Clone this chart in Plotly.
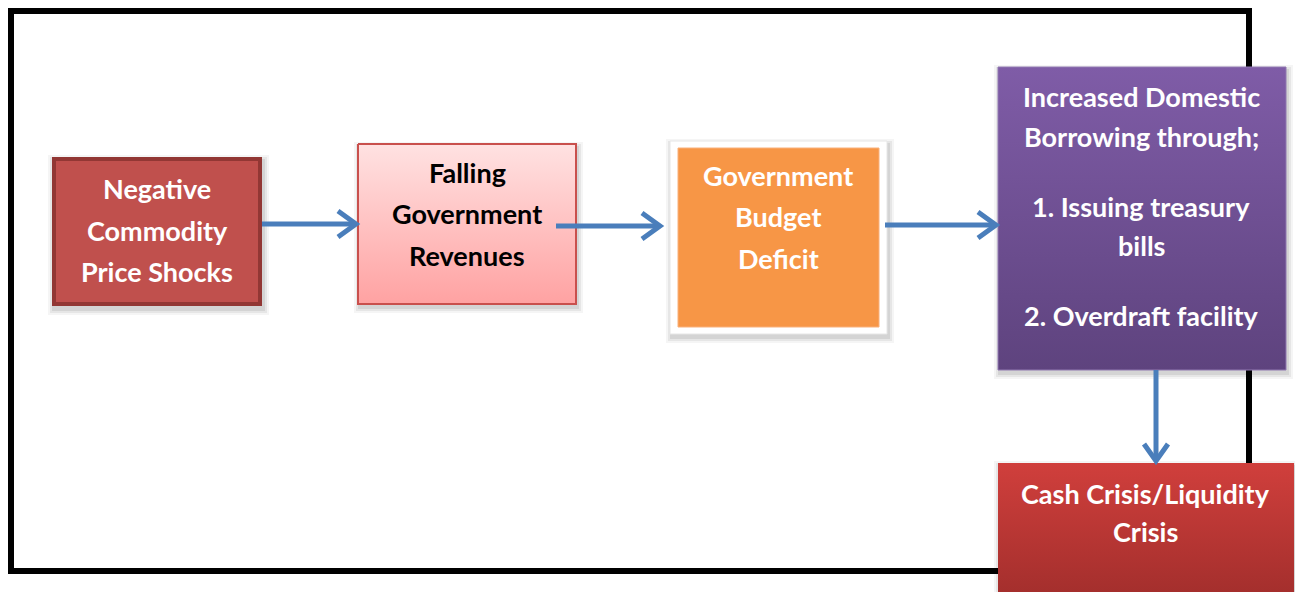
import plotly.graph_objects as go

# ---- diagram content ----
box_labels = [
    ["Negative", "Commodity", "Price Shocks"],
    ["Falling", "Government", "Revenues"],
    ["Government", "Budget", "Deficit"],
    ["Increased Domestic", "Borrowing through;", "1. Issuing treasury", "bills", "2. Overdraft facility"],
    ["Cash Crisis/Liquidity", "Crisis"],
]
text_colors = ["white", "black", "white", "white", "white"]

# ---- layout geometry (pixels) ----
W, H = 1295, 592
boxes = [  # x0, x1, y0, y1
    (52, 262, 157, 306),
    (358, 576, 144, 304),
    (678, 879, 148, 327),
    (998, 1286, 67, 370),
    (998, 1294, 463, 600),
]
line_ys = [
    [188, 230, 271],
    [172, 213, 255],
    [175, 216, 258],
    [96, 136, 206, 245, 315],
    [493, 531],
]
text_cx = [157, 467, 778, 1141, 1145]

fig = go.Figure()
shapes = []

# outer black frame
shapes.append(dict(type="rect", x0=11, x1=1249, y0=11, y1=571,
                   line=dict(color="black", width=6), fillcolor="rgba(0,0,0,0)", layer="below"))

# soft shadows
def shadow(x0, x1, y0, y1, layer="below"):
    for i, op in [(6, 0.04), (4, 0.06), (2, 0.08)]:
        shapes.append(dict(type="rect", x0=x0 - i + 2, x1=x1 + i + 1, y0=y0 - i + 4, y1=y1 + i + 3,
                           line=dict(width=0), fillcolor=f"rgba(0,0,0,{op})", layer=layer))

for b in [boxes[0], boxes[1], (670, 887, 141, 334), boxes[3], boxes[4]]:
    shadow(*b)

# box 1 solid red with dark border
x0, x1, y0, y1 = boxes[0]
shapes.append(dict(type="rect", x0=x0 + 2, x1=x1 - 2, y0=y0 + 2, y1=y1 - 2,
                   line=dict(color="#923734", width=4), fillcolor="#C0504D", layer="below"))

# box 3: white frame + orange
shapes.append(dict(type="rect", x0=670, x1=887, y0=141, y1=334,
                   line=dict(color="#E6E6E6", width=1), fillcolor="white", layer="below"))
x0, x1, y0, y1 = boxes[2]
shapes.append(dict(type="rect", x0=x0, x1=x1, y0=y0, y1=y1,
                   line=dict(color="#F9B07A", width=1), fillcolor="#F79646", layer="below"))

# gradient boxes via scatter fillgradient
def grad_box(b, top, bottom, border=None, bw=0):
    x0, x1, y0, y1 = b
    fig.add_trace(go.Scatter(
        x=[x0, x1, x1, x0, x0], y=[y0, y0, y1, y1, y0], mode="lines", fill="toself",
        line=dict(color=border if border else "rgba(0,0,0,0)", width=bw),
        fillgradient=dict(type="vertical", colorscale=[[0, bottom], [1, top]]),
        hoverinfo="skip", showlegend=False))

grad_box(boxes[1], "#FFE2E2", "#FFA2A2", "#C9504D", 2)
grad_box(boxes[3], "#7F5CA7", "#5E437E", "#9078B0", 1)
grad_box(boxes[4], "#D03F3C", "#A22E2C")

# arrows
blue = "#4A7EBB"
def harrow(xa, xb, y):
    shapes.append(dict(type="line", x0=xa, x1=xb - 3, y0=y, y1=y, line=dict(color=blue, width=5), layer="above"))
    shapes.append(dict(type="path", path=f"M {xb-20},{y-13} L {xb-2},{y} L {xb-20},{y+13}",
                       line=dict(color=blue, width=5), layer="above"))

def varrow(x, ya, yb):
    shapes.append(dict(type="line", x0=x, x1=x, y0=ya, y1=yb - 3, line=dict(color=blue, width=5), layer="above"))
    shapes.append(dict(type="path", path=f"M {x-12},{yb-19} L {x},{yb-2} L {x+12},{yb-19}",
                       line=dict(color=blue, width=5), layer="above"))

harrow(262, 358, 224)
harrow(556, 662, 226)
harrow(885, 998, 225)
varrow(1156, 370, 463)

# text
annotations = []
for labels, ys, cx, col in zip(box_labels, line_ys, text_cx, text_colors):
    for t, y in zip(labels, ys):
        annotations.append(dict(x=cx, y=y, xref="x", yref="y", text=f"<b>{t}</b>", showarrow=False,
                                font=dict(family="Lato, 'Open Sans', sans-serif", size=27, color=col),
                                xanchor="center", yanchor="middle"))

fig.update_layout(
    width=W, height=H, margin=dict(l=0, r=0, t=0, b=0),
    paper_bgcolor="white", plot_bgcolor="white",
    xaxis=dict(range=[0, W], visible=False, fixedrange=True),
    yaxis=dict(range=[H, 0], visible=False, fixedrange=True),
    shapes=shapes, annotations=annotations, showlegend=False,
)
fig.write_html("out.html", config={"displayModeBar": False},
               post_script="document.body.style.margin='0';document.body.style.overflow='hidden';")
